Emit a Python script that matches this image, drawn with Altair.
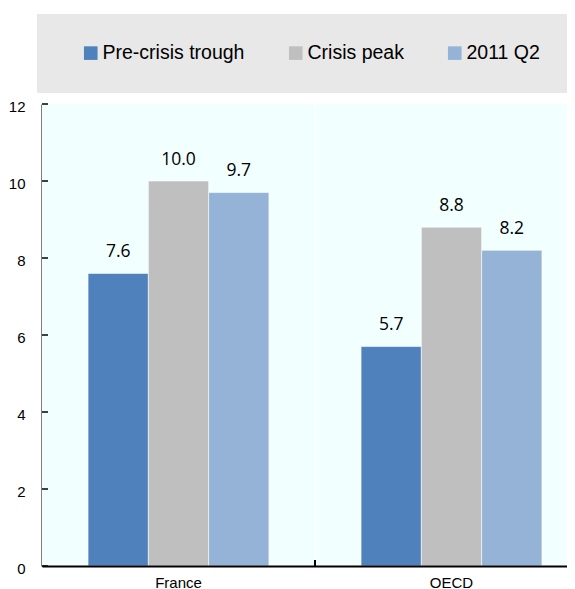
import altair as alt
import pandas as pd

countries = ["France", "OECD"]
series = ["Pre-crisis trough", "Crisis peak", "2011 Q2"]
france_values = [7.6, 10.0, 9.7]
oecd_values = [5.7, 8.8, 8.2]
colors = ["#4f81bd", "#bfbfbf", "#95b3d7"]
y_ticks = [0, 2, 4, 6, 8, 10, 12]
group_boundary = ["OECD"]

rows = []
for s, v in zip(series, france_values):
    rows.append({"country": "France", "series": s, "value": v})
for s, v in zip(series, oecd_values):
    rows.append({"country": "OECD", "series": s, "value": v})
df = pd.DataFrame(rows)

W, H = 525, 462
BAND_RANGE = 546

x_scale = alt.Scale(domain=countries, paddingInner=0, paddingOuter=0, range=[0, BAND_RANGE])
y_scale = alt.Scale(domain=[0, 12], nice=False)
off_scale = alt.Scale(domain=series, paddingInner=0, paddingOuter=0.764)

x_axis = alt.Axis(title=None, ticks=False, tickSize=0, grid=False, domain=True,
                  domainColor="black", domainWidth=2, labelFont="Liberation Sans",
                  labelFontSize=15, labelColor="black", labelPadding=9, labelAngle=0,
                  zindex=1)
y_axis = alt.Axis(title=None, values=y_ticks, ticks=False, tickSize=0, grid=True,
                  gridColor="white", gridWidth=1, domain=True, domainColor="black",
                  domainWidth=2, labelFont="Liberation Sans", labelFontSize=15,
                  labelColor="black", labelPadding=17, labelOffset=2, zindex=0)

x_enc = alt.X("country:N", scale=x_scale, axis=x_axis, sort=countries)
y_enc = alt.Y("value:Q", scale=y_scale, axis=y_axis)

legend_bg = alt.Chart(pd.DataFrame({"k": [0]})).mark_rect(
    color="#e8e8e8", clip=False
).encode(
    x=alt.value(-5), x2=alt.value(BAND_RANGE), y=alt.value(-90), y2=alt.value(-11)
)

cyan_ext = alt.Chart(pd.DataFrame({"k": [0]})).mark_rect(
    color="#f2ffff", clip=False
).encode(
    x=alt.value(0), x2=alt.value(BAND_RANGE), y=alt.value(0), y2=alt.value(H)
)

vgrid = alt.Chart(pd.DataFrame({"country": group_boundary})).mark_rule(
    color="white", strokeWidth=1.2
).encode(
    x=alt.X("country:N", scale=x_scale, axis=x_axis, sort=countries, bandPosition=0),
    y=alt.value(0), y2=alt.value(H)
)

bars = alt.Chart(df).mark_bar(stroke="white", strokeWidth=0.8, strokeOpacity=0.7).encode(
    x=x_enc,
    xOffset=alt.XOffset("series:N", scale=off_scale, sort=series),
    y=y_enc,
    color=alt.Color("series:N", sort=series,
                    scale=alt.Scale(domain=series, range=colors),
                    legend=alt.Legend(title=None, orient="none", legendX=39, legendY=-61,
                                      direction="horizontal", symbolType="square",
                                      symbolSize=185, symbolStrokeWidth=0,
                                      labelFont="Liberation Sans", labelFontSize=19.5,
                                      labelColor="black", labelOffset=2,
                                      columnPadding=41, padding=0, labelLimit=300)),
)

labels = alt.Chart(df).mark_text(
    baseline="alphabetic", dy=-16.5, font="Open Sans", fontSize=17.5, color="black"
).encode(
    x=x_enc,
    xOffset=alt.XOffset("series:N", scale=off_scale, sort=series),
    y=y_enc,
    text=alt.Text("value:Q", format=".1f"),
)

yticks = alt.Chart(pd.DataFrame({"value": y_ticks})).mark_rule(
    color="black", strokeWidth=1.5
).encode(
    y=y_enc, x=alt.value(0), x2=alt.value(6)
)

xtick = alt.Chart(pd.DataFrame({"country": group_boundary})).mark_rule(
    color="black", strokeWidth=2
).encode(
    x=alt.X("country:N", scale=x_scale, axis=x_axis, sort=countries, bandPosition=0),
    y=alt.value(H - 6), y2=alt.value(H)
)

chart = alt.layer(legend_bg, cyan_ext, vgrid, bars, labels, yticks, xtick).properties(
    width=W, height=H,
    autosize=alt.AutoSizeParams(type="none"),
    padding={"left": 34, "top": 96, "right": 0, "bottom": 23},
).configure_view(
    fill="#f2ffff", strokeWidth=0
)

chart.save("out.html", embed_options={"renderer": "svg", "actions": False})
